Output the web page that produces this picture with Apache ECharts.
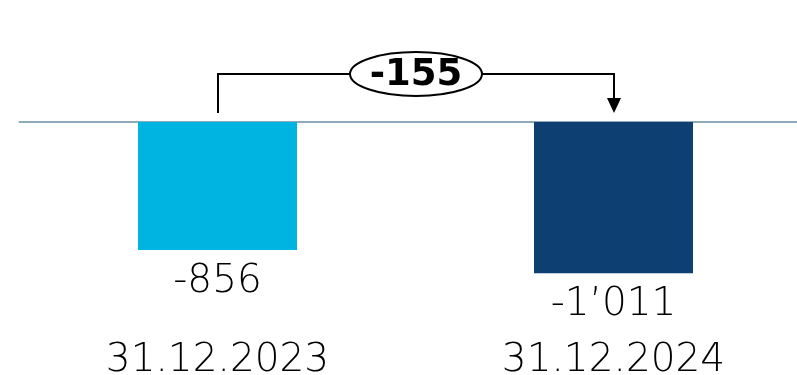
<!DOCTYPE html>
<html><head><meta charset="utf-8">
<script src="https://cdn.jsdelivr.net/npm/echarts@6/dist/echarts.min.js"></script>
<style>html,body{margin:0;padding:0;background:#fff}#c{width:797px;height:375px}</style>
</head><body><div id="c"></div>
<script>
var categories = ['31.12.2023', '31.12.2024'];
var values = [-856, -1011];
var valueLabels = ['-856', '-1\u2019011'];
var barColors = ['#00B4E1', '#0D3F73'];

var chart = echarts.init(document.getElementById('c'), null, {renderer: 'canvas'});
var FONT = 'DejaVu Sans';
var H = 1400 * 0.1495;
chart.setOption({
  animation: false,
  grid: {left: 19.5, top: 122, width: 792, height: H, containLabel: false, outerBoundsMode: 'none'},
  xAxis: [{
    type: 'category', data: categories, position: 'top',
    axisLine: {show: true, onZero: false, lineStyle: {color: '#8FAABB', width: 2}},
    axisTick: {show: false}, axisLabel: {show: false}
  }, {
    type: 'category', data: categories, position: 'bottom',
    axisLine: {show: false}, axisTick: {show: false},
    axisLabel: {show: true, margin: 10, fontFamily: FONT, fontSize: 39, fontWeight: 200, color: '#000'}
  }],
  yAxis: {type: 'value', min: -1400, max: 0, show: false, splitLine: {show: false}},
  series: [{
    type: 'bar', xAxisIndex: 0, barWidth: 159,
    data: values.map(function (v, i) { return {value: v, itemStyle: {color: barColors[i]}}; }),
    label: {
      show: true, position: 'bottom', distance: 12,
      fontFamily: FONT, fontSize: 39, fontWeight: 200, color: '#000',
      formatter: function (p) { return valueLabels[p.dataIndex]; }
    }
  }]
});

var p0 = chart.convertToPixel({xAxisIndex: 0, yAxisIndex: 0}, [0, 0]);
var p1 = chart.convertToPixel({xAxisIndex: 0, yAxisIndex: 0}, [1, 0]);
var x0 = Math.round(p0[0]), x1 = Math.round(p1[0]), base = p0[1];
var yTop = 74, yEnd = base - 9;
var diff = values[1] - values[0];
var mid = (x0 + x1) / 2;
chart.setOption({
  graphic: [
    {type: 'polyline', shape: {points: [[x0, yEnd], [x0, yTop], [x1, yTop], [x1, yEnd - 14]]},
     style: {stroke: '#000', lineWidth: 2, fill: null}, z: 10},
    {type: 'polygon', shape: {points: [[x1 - 7, yEnd - 15], [x1 + 7, yEnd - 15], [x1, yEnd]]},
     style: {fill: '#000'}, z: 10},
    {type: 'ellipse', shape: {cx: mid, cy: yTop, rx: 66, ry: 22},
     style: {fill: '#fff', stroke: '#000', lineWidth: 2}, z: 11},
    {type: 'text', x: mid, y: yTop + 1, z: 12,
     style: {text: String(diff), fontFamily: FONT, fontWeight: 'bold', fontSize: 37, fill: '#000',
             align: 'center', verticalAlign: 'middle'}}
  ]
});
</script></body></html>
